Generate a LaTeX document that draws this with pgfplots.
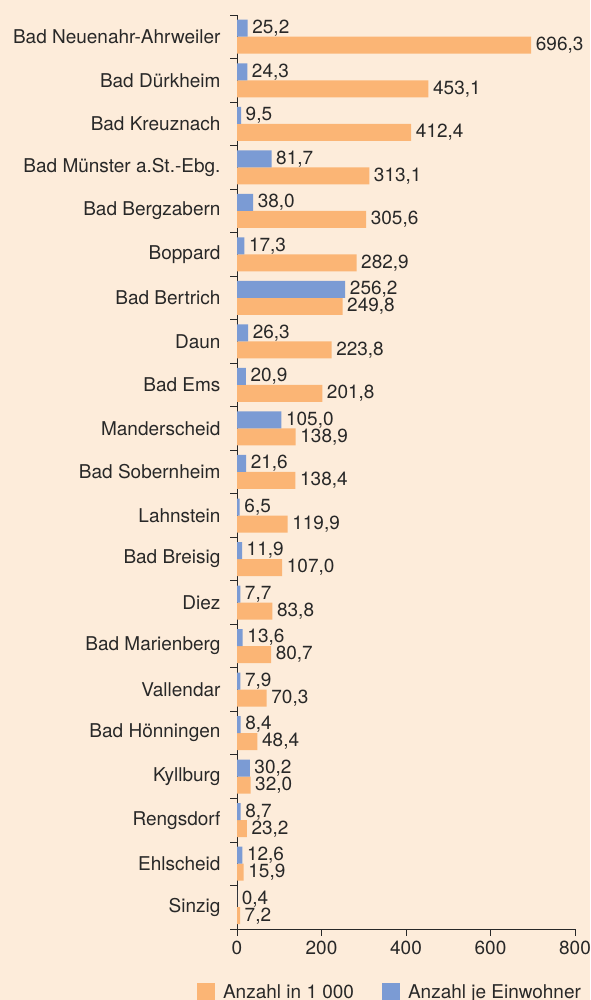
\documentclass[border=0pt]{standalone}
\usepackage{pgfplots}
\pgfplotsset{compat=1.18}
\usepackage{fontspec}
\setmainfont{TeX Gyre Heros}
\definecolor{bg}{RGB}{253,236,218}
\definecolor{orangebar}{RGB}{251,181,117}
\definecolor{bluebar}{RGB}{123,155,212}
\definecolor{txt}{RGB}{40,40,40}
\newcommand{\fs}{\fontsize{19}{22}\selectfont}
\begin{document}
\begin{tikzpicture}[x=1pt,y=1pt]
\useasboundingbox (0,0) rectangle (590,1000);
\fill[bg] (0,0) rectangle (590,1000);
\clip (0,0) rectangle (590,1000);
\begin{axis}[
  at={(237pt,71pt)}, anchor=south west,
  scale only axis, width=338pt, height=914pt,
  xmin=0, xmax=800, ymin=-0.5, ymax=20.5,
  axis x line*=bottom, axis y line*=left,
  axis line style={draw=txt, line width=0.9pt},
  every tick/.style={draw=txt, line width=0.9pt},
  xtick={0,200,...,800},
  ytick={0,...,20},
  yticklabels={Sinzig, Ehlscheid, Rengsdorf, Kyllburg, Bad Hönningen, Vallendar, Bad Marienberg, Diez, Bad Breisig, Lahnstein, Bad Sobernheim, Manderscheid, Bad Ems, Daun, Bad Bertrich, Boppard, Bad Bergzabern, Bad Münster a.St.-Ebg., Bad Kreuznach, Bad Dürkheim, Bad Neuenahr-Ahrweiler},
  minor ytick={-0.5,0.5,...,20.5},
  tick align=outside,
  major tick length=7pt, minor tick length=7pt,
  every major y tick/.append style={draw=none},
  tick label style={font=\fs, text=txt},
  yticklabel style={xshift=-6pt},
  xticklabel style={yshift=-1pt},
  /pgf/number format/assume math mode=true,
  xbar, bar width=17pt,
  nodes near coords,
  point meta=x,
  nodes near coords style={font=\fs, text=txt, anchor=west, inner sep=4.5pt,
    /pgf/number format/.cd, fixed, fixed zerofill, precision=1, use comma, assume math mode=true},
  legend style={at={(axis description cs:0.4527,-0.0689)}, anchor=center, draw=none, fill=none,
    font=\fs, text=txt, legend columns=2,
    /tikz/every odd column/.append style={column sep=6pt},
    /tikz/every even column/.append style={column sep=26pt}},
  legend image code/.code={\fill[#1,draw=none] (0pt,-9pt) rectangle (18pt,9pt);},
]
\addplot[fill=orangebar, draw=none, bar shift=-8.5pt] coordinates {
(7.2,0) (15.9,1) (23.2,2) (32.0,3) (48.4,4) (70.3,5) (80.7,6) (83.8,7) (107.0,8) (119.9,9) (138.4,10) (138.9,11) (201.8,12) (223.8,13) (249.8,14) (282.9,15) (305.6,16) (313.1,17) (412.4,18) (453.1,19) (696.3,20)
};
\addlegendentry{Anzahl in 1 000}
\addplot[fill=bluebar, draw=none, bar shift=8.5pt] coordinates {
(0.4,0) (12.6,1) (8.7,2) (30.2,3) (8.4,4) (7.9,5) (13.6,6) (7.7,7) (11.9,8) (6.5,9) (21.6,10) (105.0,11) (20.9,12) (26.3,13) (256.2,14) (17.3,15) (38.0,16) (81.7,17) (9.5,18) (24.3,19) (25.2,20)
};
\addlegendentry{Anzahl je Einwohner}
\end{axis}
\end{tikzpicture}
\end{document}
